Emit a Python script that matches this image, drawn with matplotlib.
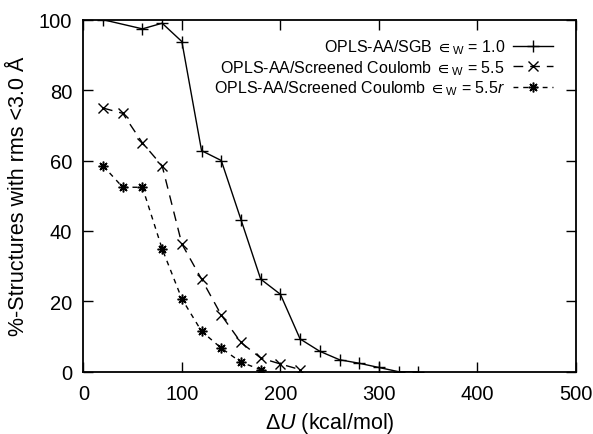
import matplotlib
matplotlib.use("Agg")
import matplotlib.pyplot as plt

plt.rcParams['font.family'] = ['Liberation Sans', 'DejaVu Sans']
plt.rcParams['mathtext.fontset'] = 'custom'
plt.rcParams['mathtext.rm'] = 'Liberation Sans'
plt.rcParams['mathtext.it'] = 'Liberation Sans:italic'
plt.rcParams['mathtext.sf'] = 'Liberation Sans'
plt.rcParams['mathtext.fallback'] = 'stixsans'

# Data
x_sgb = [20, 60, 80, 100, 120, 140, 160, 180, 200, 220, 240, 260, 280, 300, 320, 340]
y_sgb = [100, 97.4, 99, 93.8, 62.8, 60, 43.2, 26.3, 22, 9.3, 5.8, 3.4, 2.4, 1.2, 0, 0]

x_sc = [20, 40, 60, 80, 100, 120, 140, 160, 180, 200, 220]
y_sc = [74.9, 73.4, 65, 58.5, 36.3, 26.3, 16.1, 8.3, 3.9, 2.2, 0.6]

x_scr = [20, 40, 60, 80, 100, 120, 140, 160, 180]
y_scr = [58.5, 52.4, 52.4, 34.9, 20.7, 11.5, 6.7, 2.7, 0.6]

labels = [
    "OPLS-AA/SGB ${\\in}_{\\mathrm{W}}$ = 1.0",
    "OPLS-AA/Screened Coulomb ${\\in}_{\\mathrm{W}}$ = 5.5",
    "OPLS-AA/Screened Coulomb ${\\in}_{\\mathrm{W}}$ = 5.5$\\it{r}$",
]
xticks = [0, 100, 200, 300, 400, 500]
yticks = [0, 20, 40, 60, 80, 100]

fig = plt.figure(figsize=(5.93, 4.35), dpi=100)
ax = fig.add_axes([0.1405, 0.1432, 0.8308, 0.8092])

ax.plot(x_sgb, y_sgb, color='black', lw=1.0, ls='-', marker='+', ms=9, mew=1.0,
        label=labels[0])
ax.plot(x_sc, y_sc, color='black', lw=1.0, ls=(0, (7, 5)), marker='x', ms=7, mew=1.0,
        label=labels[1])
ax.plot(x_scr, y_scr, color='black', lw=1.0, ls=(0, (3.5, 3.5)), marker=(8, 2, 0), ms=7,
        mew=1.1, label=labels[2])

ax.set_xlim(0, 500)
ax.set_ylim(0, 100)
ax.set_xticks(xticks)
ax.set_yticks(yticks)
ax.tick_params(direction='in', top=True, right=True, length=7, width=1,
               labelsize=14.5)
ax.tick_params(axis='x', pad=9)
ax.tick_params(axis='y', pad=8)
for s in ax.spines.values():
    s.set_linewidth(1.3)

ax.set_xlabel("\u0394$U$ (kcal/mol)", fontsize=15.5, labelpad=5)
ax.set_ylabel("%-Structures with rms <3.0 \u00c5", fontsize=15.5, labelpad=7)

leg = ax.legend(loc='upper right', markerfirst=False, frameon=False, fontsize=11.5,
                handlelength=2.5, bbox_to_anchor=(0.953, 0.95), labelspacing=0.12,
                handletextpad=0.5, borderpad=0, borderaxespad=0)

fig.savefig("out.png", dpi=100)
